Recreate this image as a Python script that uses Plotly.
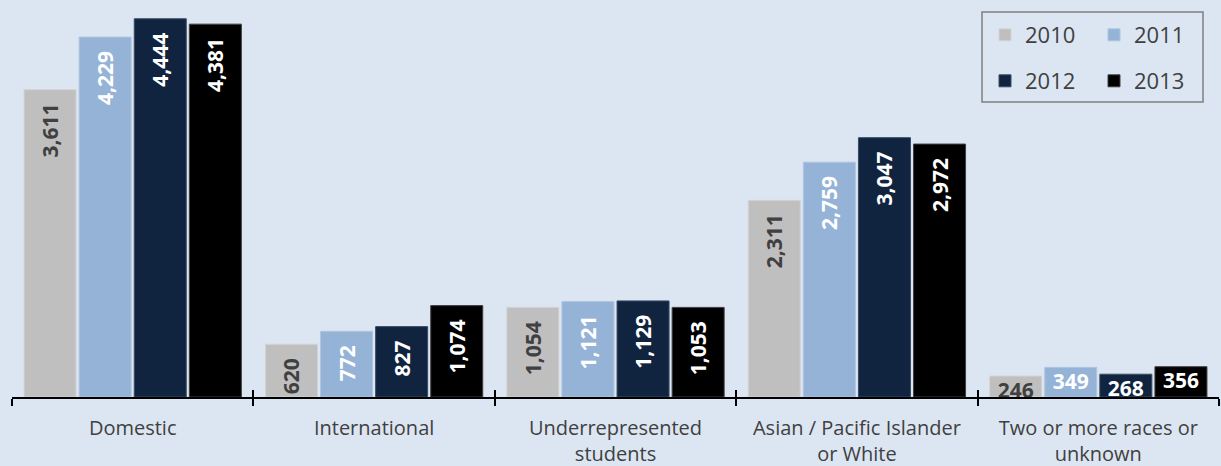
import plotly.graph_objects as go

categories = ["Domestic", "International", "Underrepresented students",
              "Asian / Pacific Islander or White", "Two or more races or unknown"]
tick_labels = ["Domestic", "International", "Underrepresented<br>students",
               "Asian / Pacific Islander<br>or White", "Two or more races or<br>unknown"]
years = ["2010", "2011", "2012", "2013"]
values = {
    "2010": [3611, 620, 1054, 2311, 246],
    "2011": [4229, 772, 1121, 2759, 349],
    "2012": [4444, 827, 1129, 3047, 268],
    "2013": [4381, 1074, 1053, 2972, 356],
}
colors = {"2010": "#BFBFBF", "2011": "#95B3D7", "2012": "#10243F", "2013": "#000000"}
text_colors = {"2010": "#404040", "2011": "#FFFFFF", "2012": "#FFFFFF", "2013": "#FFFFFF"}
edge_colors = {"2010": "#D4D4D4", "2011": "#AFC5E0", "2012": "#3A4D66", "2013": "#404040"}
legend_of = {"2010": "legend", "2011": "legend", "2012": "legend2", "2013": "legend2"}

FONT = "Open Sans"
NB = "\u00a0"
BARGAP = 0.087

fig = go.Figure()
for yr in years:
    # first four categories: vertical labels
    fig.add_trace(go.Bar(
        name=yr, x=categories[:4], y=values[yr][:4], offsetgroup=yr,
        marker=dict(color=colors[yr], line=dict(color=edge_colors[yr], width=1)),
        texttemplate="%{y:,}" + NB + NB, textposition="inside", insidetextanchor="end",
        textangle=-90, constraintext="none", cliponaxis=False,
        textfont=dict(family=FONT, size=21, color=text_colors[yr], weight="bold"),
        legend=legend_of[yr], hoverinfo="skip",
    ))
for yr in years:
    # last category bars (labels drawn by text traces below)
    fig.add_trace(go.Bar(
        name=yr, x=categories[4:], y=values[yr][4:], offsetgroup=yr, showlegend=False,
        marker=dict(color=colors[yr], line=dict(color=edge_colors[yr], width=1)),
        textposition="none", hoverinfo="skip",
    ))
for yr in years:
    fig.add_trace(go.Scatter(
        x=categories[4:], y=values[yr][4:], offsetgroup=yr, mode="markers+text",
        marker=dict(size=8, opacity=0),
        texttemplate="%{y:,}", textposition="bottom center", showlegend=False,
        textfont=dict(family=FONT, size=21, color=text_colors[yr], weight="bold"),
        cliponaxis=False, hoverinfo="skip",
    ))

# helper trace so the overlay axis (inside tick marks) is drawn
fig.add_trace(go.Scatter(x=[0], y=[0], xaxis="x2", mode="markers",
                         marker=dict(opacity=0, size=1), showlegend=False, hoverinfo="skip"))

W, H = 1221, 466
ml, mr, mt, mb = 12, 2, 14, 69
pw, ph = W - ml - mr, H - mt - mb

def px(x):
    return (x - ml) / pw

def py(y):
    return (H - mb - y) / ph

fig.update_layout(
    width=W, height=H,
    margin=dict(l=ml, r=mr, t=mt, b=mb, autoexpand=False),
    paper_bgcolor="#DCE6F2", plot_bgcolor="#DCE6F2",
    barmode="group", bargap=BARGAP, bargroupgap=0.056,
    scattermode="group", scattergap=BARGAP,
    font=dict(family=FONT, color="#404040"),
    xaxis=dict(
        type="category", categoryorder="array", categoryarray=categories,
        range=[-0.5, 4.5], tickvals=categories, ticktext=tick_labels,
        tickson="boundaries", ticks="outside", ticklen=7, tickwidth=1.5, tickcolor="#000000",
        showline=True, linecolor="#000000", linewidth=2, showgrid=False,
        ticklabelstandoff=12, automargin=False,
        tickfont=dict(family=FONT, size=20, color="#404040"),
    ),
    xaxis2=dict(
        overlaying="x", anchor="y", range=[-0.5, 4.5],
        tickvals=[-0.5, 0.5, 1.5, 2.5, 3.5, 4.5], ticks="inside", ticklen=7,
        tickwidth=1.5, tickcolor="#000000", showticklabels=False,
        showline=False, showgrid=False, zeroline=False, automargin=False,
    ),
    yaxis=dict(range=[0, 4500], visible=False, showgrid=False, zeroline=False,
               automargin=False),
    legend=dict(
        orientation="h", x=px(985), y=py(35), xanchor="left", yanchor="middle",
        bgcolor="rgba(0,0,0,0)", borderwidth=0, entrywidth=64, entrywidthmode="pixels",
        font=dict(family=FONT, size=22, color="#404040"),
    ),
    legend2=dict(
        orientation="h", x=px(985), y=py(81), xanchor="left", yanchor="middle",
        bgcolor="rgba(0,0,0,0)", borderwidth=0, entrywidth=64, entrywidthmode="pixels",
        font=dict(family=FONT, size=22, color="#404040"),
    ),
    shapes=[dict(
        type="rect", xref="paper", yref="paper",
        x0=px(982), x1=px(1203), y0=py(102), y1=py(12),
        line=dict(color="#7F7F7F", width=1.5), fillcolor="rgba(0,0,0,0)",
    )],
    showlegend=True,
)

fig.write_html("out.html", config={"displayModeBar": False},
               post_script="document.body.style.margin='0px';")
